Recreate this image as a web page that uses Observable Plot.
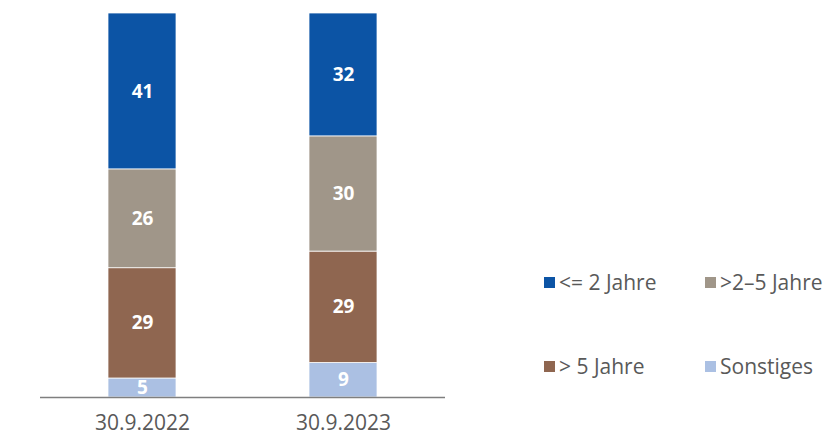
<!DOCTYPE html>
<html><head><meta charset="utf-8">
<script src="https://cdn.jsdelivr.net/npm/d3@7"></script>
<script src="https://cdn.jsdelivr.net/npm/@observablehq/plot@0.6"></script>
<style>
body{margin:0;background:#fff;font-family:"Open Sans",sans-serif;}
#wrap{position:relative;width:827px;height:437px;}
.leg{position:absolute;font-size:21px;color:#595959;display:flex;align-items:center;white-space:nowrap;height:24px;}
.sw{display:inline-block;width:11px;height:11px;margin-right:4px;}
</style></head>
<body><div id="wrap"></div>
<script>
const dates = ["30.9.2022", "30.9.2023"];
const series = ["Sonstiges", "> 5 Jahre", ">2–5 Jahre", "<= 2 Jahre"];
const colors = ["#abc0e3", "#8f6650", "#a09689", "#0c54a5"];
const values2022 = [5, 29, 26, 41];
const values2023 = [9, 29, 30, 32];

const data = [];
series.forEach((s, i) => {
  data.push({date: dates[0], series: s, value: values2022[i]});
  data.push({date: dates[1], series: s, value: values2023[i]});
});

const chart = Plot.plot({
  width: 827, height: 437,
  marginLeft: 40, marginRight: 382, marginTop: 13, marginBottom: 40,
  style: {fontFamily: "Open Sans, sans-serif", fontSize: "21px", color: "#595959", background: "transparent"},
  x: {domain: dates, paddingInner: 0.663, paddingOuter: 0.334, label: null, tickSize: 0, tickPadding: 18},
  y: {axis: null},
  color: {domain: series, range: colors},
  marks: [
    Plot.barY(data, Plot.stackY({offset: "normalize", order: null, x: "date", y: "value", fill: "series", stroke: "white", strokeWidth: 0.75})),
    Plot.text(data, Plot.stackY({offset: "normalize", order: null, x: "date", y: "value", text: d => String(d.value), fill: "white", fontWeight: "bold", fontSize: 19})),
    Plot.ruleY([0], {stroke: "#7f7f7f", strokeWidth: 1.5})
  ]
});
const wrap = document.getElementById("wrap");
wrap.appendChild(chart);

const legendItems = [
  {label: "<= 2 Jahre", color: colors[3], x: 544, y: 282},
  {label: ">2–5 Jahre", color: colors[2], x: 705, y: 282},
  {label: "> 5 Jahre", color: colors[1], x: 544, y: 366},
  {label: "Sonstiges", color: colors[0], x: 705, y: 366}
];
legendItems.forEach(it => {
  const d = document.createElement("div");
  d.className = "leg";
  d.style.left = it.x + "px";
  d.style.top = (it.y - 12) + "px";
  d.innerHTML = `<span class="sw" style="background:${it.color}"></span><span></span>`;
  d.lastChild.textContent = it.label;
  wrap.appendChild(d);
});
</script></body></html>
